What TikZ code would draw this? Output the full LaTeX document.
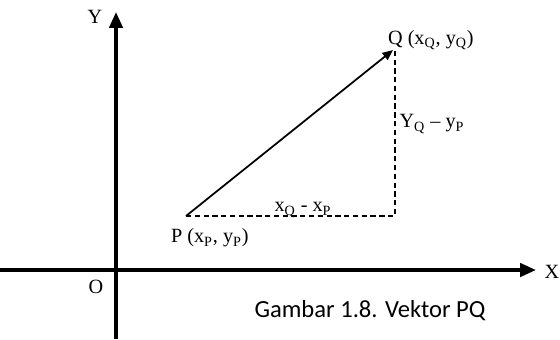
\documentclass[tikz,border=0pt]{standalone}
\usepackage{fontspec}
\setmainfont{Liberation Serif}
\newfontfamily\capfont{Carlito}
\usepackage{tikz}
\usetikzlibrary{arrows.meta}

\begin{document}
\begin{tikzpicture}[x=0.02cm,y=-0.02cm,line cap=butt,line join=round,
  axis/.style={line width=2pt,-{Triangle[length=9pt,width=7.5pt]}},
  lbl/.style={font=\fontsize{11.5}{13}\selectfont,inner sep=1pt}]
  \useasboundingbox (0,0) rectangle (560,339);
  \coordinate (O) at (116,270);
  \coordinate (ybot) at (116,339);
  \coordinate (ytop) at (116,12);
  \coordinate (xlft) at (0,270);
  \coordinate (xrgt) at (536,270);
  \coordinate (P) at (186,216);
  \coordinate (Q) at (393,50);
  \coordinate (R) at (395,216);
  \draw[axis] (ybot) -- (ytop);
  \draw[axis] (xlft) -- (xrgt);
  \draw[line width=1pt,-{Triangle[length=6pt,width=5pt]}] (P) -- (Q);
  \draw[dashed,line width=0.6pt,dash pattern=on 3pt off 2pt] (P) -- (R) -- (395,50);
  \node[lbl] (ylab) at (95,17) {Y};
  \node[lbl] (xlab) at (552,272) {X};
  \node[lbl] (olab) at (96,287) {O};
  \node[lbl,anchor=west] (qlab) at (386,40) {Q (x\textsubscript{Q}, y\textsubscript{Q})};
  \node[lbl,anchor=west] (plab) at (169,238) {P (x\textsubscript{P}, y\textsubscript{P})};
  \node[lbl] (dx) at (303,210) {x\textsubscript{Q} - x\textsubscript{P}};
  \node[lbl] (dy) at (432,124) {Y\textsubscript{Q} -- y\textsubscript{P}};
  \node[font=\capfont\fontsize{14}{16}\selectfont] (cap) at (370,311) {Gambar 1.8. Vektor PQ};
\end{tikzpicture}
\end{document}
